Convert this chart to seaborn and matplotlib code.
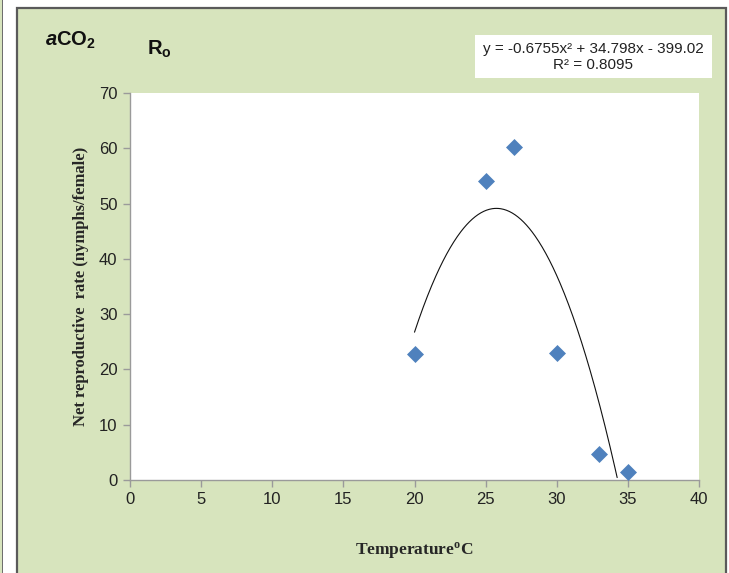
import numpy as np
import pandas as pd
import seaborn as sns
import matplotlib.pyplot as plt
from matplotlib.patches import Rectangle

# Data
temperature = [20, 25, 27, 30, 33, 35]
ro_values = [22.8, 54.0, 60.3, 22.9, 4.7, 1.5]

# Excel polynomial trendline coefficients (as printed on the chart)
coef = [-0.6755, 34.798, -399.02]
r_squared = 0.8095

df = pd.DataFrame({"temp": temperature, "ro": ro_values})

sns.set_style("white")
plt.rcParams['font.family'] = ['Liberation Sans', 'DejaVu Sans']
plt.rcParams['mathtext.fontset'] = 'custom'
plt.rcParams['mathtext.rm'] = 'Liberation Sans:bold'
plt.rcParams['mathtext.it'] = 'Liberation Sans:italic:bold'
plt.rcParams['mathtext.bf'] = 'Liberation Serif:bold'

W, H = 729, 573
fig = plt.figure(figsize=(W / 100, H / 100), dpi=100)
fig.patch.set_facecolor("white")

green = "#D7E4BD"
# outer frame pieces
fig.patches.append(Rectangle((0, 0), 1.5 / W, 1, transform=fig.transFigure,
                             facecolor=green, edgecolor="none", zorder=-2))
fig.patches.append(Rectangle((1.5 / W, 0), 1.5 / W, 1, transform=fig.transFigure,
                             facecolor="#6e6e6e", edgecolor="none", zorder=-2))
fig.patches.append(Rectangle((17 / W, -0.01), (726 - 17) / W, (H - 8) / H + 0.01,
                             transform=fig.transFigure, facecolor=green,
                             edgecolor="#5a5a5a", linewidth=1.6, zorder=-2))
# equation box
fig.patches.append(Rectangle((475 / W, 1 - 78 / H), (712 - 475) / W, 43 / H,
                             transform=fig.transFigure, facecolor="white",
                             edgecolor="none", zorder=-1))

ax = fig.add_axes([130 / W, 1 - 480 / H, (699 - 130) / W, (480 - 93) / H])
ax.set_zorder(1)
ax.set_facecolor("white")

# trendline over data range, clipped at y=0
xs = np.linspace(min(temperature), max(temperature), 300)
ys = np.polyval(coef, xs)
mask = ys >= 0
sns.lineplot(x=xs[mask], y=ys[mask], ax=ax, color="#111111", linewidth=0.8)

sns.scatterplot(data=df, x="temp", y="ro", ax=ax, marker="D", s=75,
                color="#4F81BD", edgecolor="#4F81BD", linewidth=0, zorder=3)

ax.set_xlim(0, 40)
ax.set_ylim(0, 70)
ax.set_xticks(range(0, 41, 5))
ax.set_yticks(range(0, 71, 10))
for s in ["top", "right"]:
    ax.spines[s].set_visible(False)
for s in ["left", "bottom"]:
    ax.spines[s].set_color("#9a9a9a")
    ax.spines[s].set_linewidth(1)
ax.tick_params(axis="both", direction="out", length=5, width=1, color="#9a9a9a",
               labelsize=12, labelcolor="#222222", pad=4, bottom=True, left=True)

ax.set_xlabel("Temperature$^{\\mathbf{o}}$C", fontsize=12.5, fontweight="bold",
              family="Liberation Serif")
ax.set_ylabel("Net reproductive  rate (nymphs/female)", fontsize=12,
              fontweight="bold", family="Liberation Serif")
ax.xaxis.set_label_coords(0.5, -0.155)
ax.yaxis.set_label_coords(-0.072, 0.5)

# panel titles
fig.text(45 / W, 1 - 40 / H, r"$\mathit{a}\mathrm{CO}_\mathrm{2}$", fontsize=14.5,
         va="center", ha="left", color="#111111")
fig.text(147 / W, 1 - 49 / H, r"$\mathrm{R}_\mathrm{o}$", fontsize=14.5,
         va="center", ha="left", color="#111111")

# equation text
eq = "y = -0.6755x² + 34.798x - 399.02\nR² = 0.8095"
fig.text(593 / W, 1 - 57 / H, eq, fontsize=11, ha="center", va="center",
         linespacing=1.2, color="#222222")

fig.savefig("out.png", dpi=100)
